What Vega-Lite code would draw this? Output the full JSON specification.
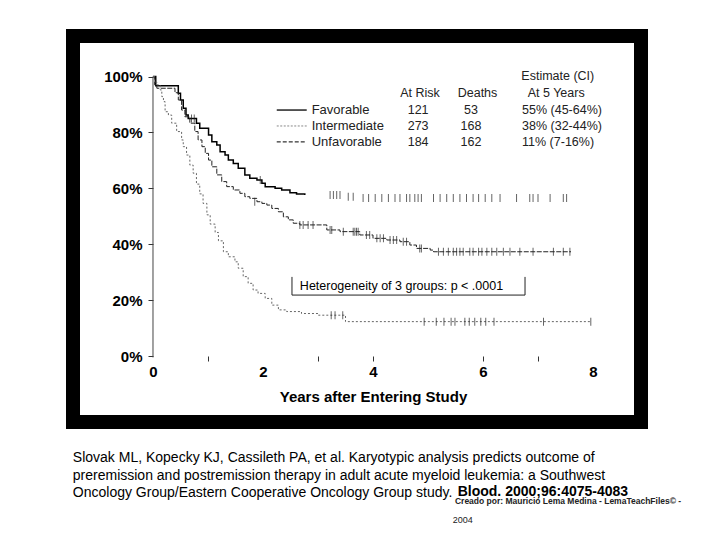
{
  "$schema": "https://vega.github.io/schema/vega-lite/v6.json",
  "width": 568,
  "height": 386,
  "autosize": "none",
  "padding": {"left": 73, "top": 36, "right": 79, "bottom": 118},
  "background": "white",
  "config": {"view": {"stroke": "black", "strokeWidth": 14}, "font": "Liberation Sans"},
  "datasets": {
    "km": [
      {"group": "Favorable", "t": 0, "s": 100}, {"group": "Favorable", "t": 0.05, "s": 96.7}, {"group": "Favorable", "t": 0.42, "s": 96.7},
      {"group": "Favorable", "t": 0.46, "s": 94.0}, {"group": "Favorable", "t": 0.5, "s": 91.6}, {"group": "Favorable", "t": 0.55, "s": 88.6},
      {"group": "Favorable", "t": 0.6, "s": 86.2}, {"group": "Favorable", "t": 0.64, "s": 85.0}, {"group": "Favorable", "t": 0.79, "s": 83.3},
      {"group": "Favorable", "t": 0.85, "s": 81.5}, {"group": "Favorable", "t": 1.01, "s": 79.1}, {"group": "Favorable", "t": 1.07, "s": 76.7},
      {"group": "Favorable", "t": 1.16, "s": 75.5}, {"group": "Favorable", "t": 1.22, "s": 73.1}, {"group": "Favorable", "t": 1.31, "s": 71.9},
      {"group": "Favorable", "t": 1.37, "s": 70.1}, {"group": "Favorable", "t": 1.46, "s": 68.9}, {"group": "Favorable", "t": 1.55, "s": 67.2},
      {"group": "Favorable", "t": 1.67, "s": 64.8}, {"group": "Favorable", "t": 1.76, "s": 63.6}, {"group": "Favorable", "t": 1.89, "s": 63.0},
      {"group": "Favorable", "t": 1.98, "s": 61.8}, {"group": "Favorable", "t": 2.04, "s": 60.6}, {"group": "Favorable", "t": 2.22, "s": 60.0},
      {"group": "Favorable", "t": 2.34, "s": 59.4}, {"group": "Favorable", "t": 2.49, "s": 58.4}, {"group": "Favorable", "t": 2.61, "s": 58.0},
      {"group": "Favorable", "t": 2.76, "s": 57.6},
      {"group": "Intermediate", "t": 0, "s": 100}, {"group": "Intermediate", "t": 0.03, "s": 97.0}, {"group": "Intermediate", "t": 0.07, "s": 95.8},
      {"group": "Intermediate", "t": 0.4, "s": 94.2}, {"group": "Intermediate", "t": 0.46, "s": 91.6}, {"group": "Intermediate", "t": 0.52, "s": 88.0},
      {"group": "Intermediate", "t": 0.58, "s": 85.6}, {"group": "Intermediate", "t": 0.67, "s": 83.3}, {"group": "Intermediate", "t": 0.76, "s": 80.3},
      {"group": "Intermediate", "t": 0.82, "s": 77.3}, {"group": "Intermediate", "t": 0.89, "s": 74.9}, {"group": "Intermediate", "t": 0.95, "s": 72.5},
      {"group": "Intermediate", "t": 1.01, "s": 70.1}, {"group": "Intermediate", "t": 1.07, "s": 67.7}, {"group": "Intermediate", "t": 1.16, "s": 64.8},
      {"group": "Intermediate", "t": 1.25, "s": 62.4}, {"group": "Intermediate", "t": 1.34, "s": 60.6}, {"group": "Intermediate", "t": 1.46, "s": 59.4},
      {"group": "Intermediate", "t": 1.58, "s": 58.2}, {"group": "Intermediate", "t": 1.67, "s": 57.0}, {"group": "Intermediate", "t": 1.76, "s": 56.4},
      {"group": "Intermediate", "t": 1.89, "s": 55.2}, {"group": "Intermediate", "t": 1.98, "s": 54.6}, {"group": "Intermediate", "t": 2.07, "s": 54.0},
      {"group": "Intermediate", "t": 2.16, "s": 52.8}, {"group": "Intermediate", "t": 2.28, "s": 51.6}, {"group": "Intermediate", "t": 2.37, "s": 49.8},
      {"group": "Intermediate", "t": 2.46, "s": 48.7}, {"group": "Intermediate", "t": 2.55, "s": 47.5}, {"group": "Intermediate", "t": 2.67, "s": 46.9},
      {"group": "Intermediate", "t": 3.16, "s": 45.1}, {"group": "Intermediate", "t": 3.4, "s": 44.5}, {"group": "Intermediate", "t": 3.76, "s": 43.3},
      {"group": "Intermediate", "t": 4.0, "s": 42.1}, {"group": "Intermediate", "t": 4.25, "s": 41.5}, {"group": "Intermediate", "t": 4.49, "s": 40.9},
      {"group": "Intermediate", "t": 4.67, "s": 39.7}, {"group": "Intermediate", "t": 4.79, "s": 38.5}, {"group": "Intermediate", "t": 5.04, "s": 37.9},
      {"group": "Intermediate", "t": 5.1, "s": 37.3}, {"group": "Intermediate", "t": 7.6, "s": 37.3},
      {"group": "Unfavorable", "t": 0, "s": 100}, {"group": "Unfavorable", "t": 0.03, "s": 98.0}, {"group": "Unfavorable", "t": 0.07, "s": 97.0},
      {"group": "Unfavorable", "t": 0.13, "s": 95.2}, {"group": "Unfavorable", "t": 0.16, "s": 92.8}, {"group": "Unfavorable", "t": 0.19, "s": 91.0},
      {"group": "Unfavorable", "t": 0.22, "s": 87.4}, {"group": "Unfavorable", "t": 0.28, "s": 86.2}, {"group": "Unfavorable", "t": 0.34, "s": 83.3},
      {"group": "Unfavorable", "t": 0.43, "s": 80.3}, {"group": "Unfavorable", "t": 0.52, "s": 77.3}, {"group": "Unfavorable", "t": 0.55, "s": 74.9},
      {"group": "Unfavorable", "t": 0.61, "s": 71.9}, {"group": "Unfavorable", "t": 0.67, "s": 68.3}, {"group": "Unfavorable", "t": 0.73, "s": 65.4},
      {"group": "Unfavorable", "t": 0.79, "s": 61.5}, {"group": "Unfavorable", "t": 0.85, "s": 58.0}, {"group": "Unfavorable", "t": 0.91, "s": 54.6},
      {"group": "Unfavorable", "t": 0.98, "s": 50.5}, {"group": "Unfavorable", "t": 1.04, "s": 47.2}, {"group": "Unfavorable", "t": 1.13, "s": 44.2},
      {"group": "Unfavorable", "t": 1.19, "s": 41.2}, {"group": "Unfavorable", "t": 1.28, "s": 37.3}, {"group": "Unfavorable", "t": 1.37, "s": 35.5},
      {"group": "Unfavorable", "t": 1.49, "s": 33.7}, {"group": "Unfavorable", "t": 1.55, "s": 31.4}, {"group": "Unfavorable", "t": 1.64, "s": 28.4},
      {"group": "Unfavorable", "t": 1.73, "s": 26.0}, {"group": "Unfavorable", "t": 1.82, "s": 23.6}, {"group": "Unfavorable", "t": 1.91, "s": 22.4},
      {"group": "Unfavorable", "t": 2.04, "s": 20.6}, {"group": "Unfavorable", "t": 2.16, "s": 18.2}, {"group": "Unfavorable", "t": 2.28, "s": 16.5},
      {"group": "Unfavorable", "t": 2.43, "s": 15.9}, {"group": "Unfavorable", "t": 2.7, "s": 15.2}, {"group": "Unfavorable", "t": 3.0, "s": 14.6},
      {"group": "Unfavorable", "t": 3.5, "s": 12.3}, {"group": "Unfavorable", "t": 7.96, "s": 12.3}
    ],
    "censored": [
      {"group": "Favorable", "t": 0.7, "s": 85.0}, {"group": "Favorable", "t": 0.75, "s": 85.0}, {"group": "Favorable", "t": 1.95, "s": 63.0},
      {"group": "Favorable", "t": 3.22, "s": 57.6}, {"group": "Favorable", "t": 3.28, "s": 57.6}, {"group": "Favorable", "t": 3.34, "s": 57.6},
      {"group": "Favorable", "t": 3.4, "s": 57.6}, {"group": "Favorable", "t": 3.55, "s": 57.0}, {"group": "Favorable", "t": 3.64, "s": 57.0},
      {"group": "Favorable", "t": 3.82, "s": 56.5}, {"group": "Favorable", "t": 3.92, "s": 56.5}, {"group": "Favorable", "t": 4.04, "s": 56.5},
      {"group": "Favorable", "t": 4.16, "s": 56.5}, {"group": "Favorable", "t": 4.28, "s": 56.5}, {"group": "Favorable", "t": 4.4, "s": 56.5},
      {"group": "Favorable", "t": 4.49, "s": 56.5}, {"group": "Favorable", "t": 4.61, "s": 56.5}, {"group": "Favorable", "t": 4.67, "s": 56.5},
      {"group": "Favorable", "t": 4.76, "s": 56.5}, {"group": "Favorable", "t": 4.82, "s": 56.5}, {"group": "Favorable", "t": 4.88, "s": 56.5},
      {"group": "Favorable", "t": 5.1, "s": 56.5}, {"group": "Favorable", "t": 5.22, "s": 56.5}, {"group": "Favorable", "t": 5.34, "s": 56.5},
      {"group": "Favorable", "t": 5.46, "s": 56.5}, {"group": "Favorable", "t": 5.58, "s": 56.5}, {"group": "Favorable", "t": 5.7, "s": 56.5},
      {"group": "Favorable", "t": 5.82, "s": 56.5}, {"group": "Favorable", "t": 5.92, "s": 56.5}, {"group": "Favorable", "t": 6.04, "s": 56.5},
      {"group": "Favorable", "t": 6.16, "s": 56.5}, {"group": "Favorable", "t": 6.31, "s": 56.5}, {"group": "Favorable", "t": 6.61, "s": 56.5},
      {"group": "Favorable", "t": 6.85, "s": 56.5}, {"group": "Favorable", "t": 6.91, "s": 56.5}, {"group": "Favorable", "t": 7.0, "s": 56.5},
      {"group": "Favorable", "t": 7.22, "s": 56.5}, {"group": "Favorable", "t": 7.46, "s": 56.5}, {"group": "Favorable", "t": 7.52, "s": 56.5},
      {"group": "Intermediate", "t": 1.85, "s": 55.2}, {"group": "Intermediate", "t": 2.67, "s": 46.9}, {"group": "Intermediate", "t": 2.73, "s": 46.9},
      {"group": "Intermediate", "t": 2.82, "s": 46.9}, {"group": "Intermediate", "t": 2.91, "s": 46.9}, {"group": "Intermediate", "t": 3.22, "s": 45.1},
      {"group": "Intermediate", "t": 3.25, "s": 45.1}, {"group": "Intermediate", "t": 3.46, "s": 44.5}, {"group": "Intermediate", "t": 3.64, "s": 44.5},
      {"group": "Intermediate", "t": 3.67, "s": 44.5}, {"group": "Intermediate", "t": 3.7, "s": 44.5}, {"group": "Intermediate", "t": 3.73, "s": 44.5},
      {"group": "Intermediate", "t": 3.88, "s": 43.3}, {"group": "Intermediate", "t": 3.94, "s": 43.3}, {"group": "Intermediate", "t": 4.07, "s": 42.1},
      {"group": "Intermediate", "t": 4.13, "s": 42.1}, {"group": "Intermediate", "t": 4.19, "s": 42.1}, {"group": "Intermediate", "t": 4.31, "s": 41.5},
      {"group": "Intermediate", "t": 4.37, "s": 41.5}, {"group": "Intermediate", "t": 4.43, "s": 41.5}, {"group": "Intermediate", "t": 4.55, "s": 40.9},
      {"group": "Intermediate", "t": 4.61, "s": 40.9}, {"group": "Intermediate", "t": 4.85, "s": 38.5}, {"group": "Intermediate", "t": 4.88, "s": 38.5},
      {"group": "Intermediate", "t": 5.19, "s": 37.3}, {"group": "Intermediate", "t": 5.28, "s": 37.3}, {"group": "Intermediate", "t": 5.37, "s": 37.3},
      {"group": "Intermediate", "t": 5.46, "s": 37.3}, {"group": "Intermediate", "t": 5.52, "s": 37.3}, {"group": "Intermediate", "t": 5.58, "s": 37.3},
      {"group": "Intermediate", "t": 5.64, "s": 37.3}, {"group": "Intermediate", "t": 5.76, "s": 37.3}, {"group": "Intermediate", "t": 5.82, "s": 37.3},
      {"group": "Intermediate", "t": 5.92, "s": 37.3}, {"group": "Intermediate", "t": 5.98, "s": 37.3}, {"group": "Intermediate", "t": 6.07, "s": 37.3},
      {"group": "Intermediate", "t": 6.16, "s": 37.3}, {"group": "Intermediate", "t": 6.25, "s": 37.3}, {"group": "Intermediate", "t": 6.37, "s": 37.3},
      {"group": "Intermediate", "t": 6.49, "s": 37.3}, {"group": "Intermediate", "t": 6.67, "s": 37.3}, {"group": "Intermediate", "t": 6.91, "s": 37.3},
      {"group": "Intermediate", "t": 7.28, "s": 37.3}, {"group": "Intermediate", "t": 7.46, "s": 37.3}, {"group": "Intermediate", "t": 7.58, "s": 37.3},
      {"group": "Unfavorable", "t": 3.24, "s": 14.6}, {"group": "Unfavorable", "t": 3.31, "s": 14.6}, {"group": "Unfavorable", "t": 3.45, "s": 14.6},
      {"group": "Unfavorable", "t": 4.93, "s": 12.3}, {"group": "Unfavorable", "t": 5.15, "s": 12.3}, {"group": "Unfavorable", "t": 5.29, "s": 12.3},
      {"group": "Unfavorable", "t": 5.42, "s": 12.3}, {"group": "Unfavorable", "t": 5.49, "s": 12.3}, {"group": "Unfavorable", "t": 5.67, "s": 12.3},
      {"group": "Unfavorable", "t": 5.75, "s": 12.3}, {"group": "Unfavorable", "t": 5.85, "s": 12.3}, {"group": "Unfavorable", "t": 5.96, "s": 12.3},
      {"group": "Unfavorable", "t": 6.05, "s": 12.3}, {"group": "Unfavorable", "t": 6.2, "s": 12.3}, {"group": "Unfavorable", "t": 7.1, "s": 12.3},
      {"group": "Unfavorable", "t": 7.96, "s": 12.3}
    ],
    "table": [
      {"group": "Favorable", "atRisk": "121", "deaths": "53", "estimate": "55% (45-64%)", "s": 88.0},
      {"group": "Intermediate", "atRisk": "273", "deaths": "168", "estimate": "38% (32-44%)", "s": 82.3},
      {"group": "Unfavorable", "atRisk": "184", "deaths": "162", "estimate": "11% (7-16%)", "s": 76.6}
    ],
    "headers": [
      {"text": "Estimate (CI)", "t": 7.36, "s": 100.2},
      {"text": "At Risk", "t": 4.855, "s": 94.1},
      {"text": "Deaths", "t": 5.9, "s": 94.1},
      {"text": "At 5 Years", "t": 7.33, "s": 94.1}
    ],
    "citation": [
      {"text": "Slovak ML, Kopecky KJ, Cassileth PA, et al. Karyotypic analysis predicts outcome of", "t": -1.458, "s": -36.6},
      {"text": "preremission and postremission therapy in adult acute myeloid leukemia: a Southwest", "t": -1.458, "s": -42.8},
      {"text": "Oncology Group/Eastern Cooperative Oncology Group study.", "t": -1.458, "s": -49.0}
    ]
  },
  "layer": [
    {
      "data": {"name": "km"},
      "transform": [{"filter": "datum.group == 'Favorable'"}],
      "mark": {"type": "line", "interpolate": "step-after", "color": "black", "strokeWidth": 1.5},
      "encoding": {
        "x": {"field": "t", "type": "quantitative", "scale": {"domain": [-1.4545, 8.8727], "nice": false, "zero": false},
          "axis": {"orient": "bottom", "offset": -66, "values": [0, 1, 2, 3, 4, 5, 6, 7, 8],
            "labelExpr": "datum.value % 2 == 0 ? format(datum.value, 'd') : ''",
            "tickOpacity": {"condition": {"test": "indexof([1, 3, 4, 6, 7], datum.value) >= 0", "value": 1}, "value": 0},
            "domain": false, "grid": false, "tickSize": 5, "tickColor": "#333", "labelFlush": false, "labelOverlap": false, "labelBound": false,
            "labelFont": "Liberation Sans", "labelFontSize": 15, "labelFontWeight": "bold", "labelColor": "black", "labelPadding": 3,
            "title": "Years after Entering Study", "titleFont": "Liberation Sans", "titleFontSize": 15, "titleFontWeight": "bold", "titleColor": "black",
            "titleX": 300, "titleY": 40, "titleBaseline": "middle", "titleAlign": "center", "titleAnchor": null}},
        "y": {"field": "s", "type": "quantitative", "scale": {"domain": [-23.61, 114.49], "nice": false, "zero": false},
          "axis": {"orient": "left", "offset": -80, "values": [0, 10, 20, 30, 40, 50, 60, 70, 80, 90, 100],
            "labelExpr": "datum.value % 20 == 0 ? datum.value + '%' : ''",
            "domain": false, "grid": false, "tickSize": 5, "tickColor": "#333", "labelOverlap": false, "labelBound": false,
            "labelFont": "Liberation Sans", "labelFontSize": 15, "labelFontWeight": "bold", "labelColor": "black", "labelPadding": 6, "title": null}}
      }
    },
    {
      "data": {"name": "km"},
      "transform": [{"filter": "datum.group == 'Intermediate'"}],
      "mark": {"type": "line", "interpolate": "step-after", "color": "#222", "strokeWidth": 1, "strokeDash": [5, 1.5]},
      "encoding": {
        "x": {"field": "t", "type": "quantitative", "scale": {"domain": [-1.4545, 8.8727], "nice": false, "zero": false}},
        "y": {"field": "s", "type": "quantitative", "scale": {"domain": [-23.61, 114.49], "nice": false, "zero": false}}
      }
    },
    {
      "data": {"name": "km"},
      "transform": [{"filter": "datum.group == 'Unfavorable'"}],
      "mark": {"type": "line", "interpolate": "step-after", "color": "#666", "strokeWidth": 1, "strokeDash": [2, 2]},
      "encoding": {
        "x": {"field": "t", "type": "quantitative", "scale": {"domain": [-1.4545, 8.8727], "nice": false, "zero": false}},
        "y": {"field": "s", "type": "quantitative", "scale": {"domain": [-23.61, 114.49], "nice": false, "zero": false}}
      }
    },
    {
      "data": {"name": "censored"},
      "mark": {"type": "tick", "orient": "vertical", "size": 8, "thickness": 1, "color": "#222"},
      "encoding": {
        "x": {"field": "t", "type": "quantitative", "scale": {"domain": [-1.4545, 8.8727], "nice": false, "zero": false}},
        "y": {"field": "s", "type": "quantitative", "scale": {"domain": [-23.61, 114.49], "nice": false, "zero": false}}
      }
    },
    {
      "data": {"values": [{}]},
      "mark": {"type": "rule", "color": "#444", "strokeWidth": 1},
      "encoding": {
        "x": {"datum": 0, "type": "quantitative", "scale": {"domain": [-1.4545, 8.8727], "nice": false, "zero": false}},
        "y": {"datum": -0.5, "type": "quantitative", "scale": {"domain": [-23.61, 114.49], "nice": false, "zero": false}},
        "y2": {"datum": 100}
      }
    },
    {
      "data": {"name": "table"},
      "transform": [{"filter": "datum.group == 'Favorable'"}],
      "mark": {"type": "rule", "color": "black", "strokeWidth": 1.3},
      "encoding": {
        "x": {"datum": 2.25, "type": "quantitative", "scale": {"domain": [-1.4545, 8.8727], "nice": false, "zero": false}},
        "x2": {"datum": 2.795},
        "y": {"field": "s", "type": "quantitative", "scale": {"domain": [-23.61, 114.49], "nice": false, "zero": false}}
      }
    },
    {
      "data": {"name": "table"},
      "transform": [{"filter": "datum.group == 'Intermediate'"}],
      "mark": {"type": "rule", "color": "#888", "strokeWidth": 1, "strokeDash": [2, 1.5]},
      "encoding": {
        "x": {"datum": 2.25, "type": "quantitative", "scale": {"domain": [-1.4545, 8.8727], "nice": false, "zero": false}},
        "x2": {"datum": 2.795},
        "y": {"field": "s", "type": "quantitative", "scale": {"domain": [-23.61, 114.49], "nice": false, "zero": false}}
      }
    },
    {
      "data": {"name": "table"},
      "transform": [{"filter": "datum.group == 'Unfavorable'"}],
      "mark": {"type": "rule", "color": "black", "strokeWidth": 1, "strokeDash": [4, 2]},
      "encoding": {
        "x": {"datum": 2.25, "type": "quantitative", "scale": {"domain": [-1.4545, 8.8727], "nice": false, "zero": false}},
        "x2": {"datum": 2.795},
        "y": {"field": "s", "type": "quantitative", "scale": {"domain": [-23.61, 114.49], "nice": false, "zero": false}}
      }
    },
    {
      "data": {"name": "table"},
      "mark": {"type": "text", "align": "left", "baseline": "middle", "fontSize": 13, "color": "#222", "font": "Liberation Sans"},
      "encoding": {
        "x": {"datum": 2.885, "type": "quantitative", "scale": {"domain": [-1.4545, 8.8727], "nice": false, "zero": false}},
        "y": {"field": "s", "type": "quantitative", "scale": {"domain": [-23.61, 114.49], "nice": false, "zero": false}},
        "text": {"field": "group"}
      }
    },
    {
      "data": {"name": "table"},
      "mark": {"type": "text", "align": "center", "baseline": "middle", "fontSize": 12.5, "color": "#222", "font": "Liberation Sans"},
      "encoding": {
        "x": {"datum": 4.82, "type": "quantitative", "scale": {"domain": [-1.4545, 8.8727], "nice": false, "zero": false}},
        "y": {"field": "s", "type": "quantitative", "scale": {"domain": [-23.61, 114.49], "nice": false, "zero": false}},
        "text": {"field": "atRisk"}
      }
    },
    {
      "data": {"name": "table"},
      "mark": {"type": "text", "align": "center", "baseline": "middle", "fontSize": 12.5, "color": "#222", "font": "Liberation Sans"},
      "encoding": {
        "x": {"datum": 5.78, "type": "quantitative", "scale": {"domain": [-1.4545, 8.8727], "nice": false, "zero": false}},
        "y": {"field": "s", "type": "quantitative", "scale": {"domain": [-23.61, 114.49], "nice": false, "zero": false}},
        "text": {"field": "deaths"}
      }
    },
    {
      "data": {"name": "table"},
      "mark": {"type": "text", "align": "left", "baseline": "middle", "fontSize": 12.5, "color": "#222", "font": "Liberation Sans"},
      "encoding": {
        "x": {"datum": 6.71, "type": "quantitative", "scale": {"domain": [-1.4545, 8.8727], "nice": false, "zero": false}},
        "y": {"field": "s", "type": "quantitative", "scale": {"domain": [-23.61, 114.49], "nice": false, "zero": false}},
        "text": {"field": "estimate"}
      }
    },
    {
      "data": {"name": "headers"},
      "mark": {"type": "text", "align": "center", "baseline": "middle", "fontSize": 12.5, "color": "#222", "font": "Liberation Sans"},
      "encoding": {
        "x": {"field": "t", "type": "quantitative", "scale": {"domain": [-1.4545, 8.8727], "nice": false, "zero": false}},
        "y": {"field": "s", "type": "quantitative", "scale": {"domain": [-23.61, 114.49], "nice": false, "zero": false}},
        "text": {"field": "text"}
      }
    },
    {
      "data": {"values": [{"label": "Heterogeneity of 3 groups: p < .0001"}]},
      "mark": {"type": "text", "align": "left", "baseline": "middle", "fontSize": 12.5, "color": "black", "font": "Liberation Sans"},
      "encoding": {
        "x": {"datum": 2.67, "type": "quantitative", "scale": {"domain": [-1.4545, 8.8727], "nice": false, "zero": false}},
        "y": {"datum": 25.0, "type": "quantitative", "scale": {"domain": [-23.61, 114.49], "nice": false, "zero": false}},
        "text": {"field": "label"}
      }
    },
    {
      "data": {"values": [{"edge": "left", "x": 2.527, "x2": 2.527, "y": 21.8, "y2": 28.3}, {"edge": "right", "x": 6.764, "x2": 6.764, "y": 21.8, "y2": 28.3}, {"edge": "bottom", "x": 2.527, "x2": 6.764, "y": 21.8, "y2": 21.8}]},
      "mark": {"type": "rule", "color": "#222", "strokeWidth": 1},
      "encoding": {
        "x": {"field": "x", "type": "quantitative", "scale": {"domain": [-1.4545, 8.8727], "nice": false, "zero": false}},
        "x2": {"field": "x2"},
        "y": {"field": "y", "type": "quantitative", "scale": {"domain": [-23.61, 114.49], "nice": false, "zero": false}},
        "y2": {"field": "y2"}
      }
    },
    {
      "data": {"name": "citation"},
      "mark": {"type": "text", "align": "left", "baseline": "middle", "fontSize": 14, "color": "black", "font": "Liberation Sans"},
      "encoding": {
        "x": {"field": "t", "type": "quantitative", "scale": {"domain": [-1.4545, 8.8727], "nice": false, "zero": false}},
        "y": {"field": "s", "type": "quantitative", "scale": {"domain": [-23.61, 114.49], "nice": false, "zero": false}},
        "text": {"field": "text"}
      }
    },
    {
      "data": {"values": [{"label": "Blood. 2000;96:4075-4083"}]},
      "mark": {"type": "text", "align": "left", "baseline": "middle", "fontSize": 14, "fontWeight": "bold", "color": "black", "font": "Liberation Sans"},
      "encoding": {
        "x": {"datum": 5.54, "type": "quantitative", "scale": {"domain": [-1.4545, 8.8727], "nice": false, "zero": false}},
        "y": {"datum": -48.5, "type": "quantitative", "scale": {"domain": [-23.61, 114.49], "nice": false, "zero": false}},
        "text": {"field": "label"}
      }
    },
    {
      "data": {"values": [{"label": "Creado por: Mauricio Lema Medina - LemaTeachFiles© -", "s": -51.8}]},
      "mark": {"type": "text", "align": "left", "baseline": "middle", "fontSize": 8.5, "fontWeight": "bold", "color": "#222", "font": "Liberation Sans"},
      "encoding": {
        "x": {"datum": 5.49, "type": "quantitative", "scale": {"domain": [-1.4545, 8.8727], "nice": false, "zero": false}},
        "y": {"field": "s", "type": "quantitative", "scale": {"domain": [-23.61, 114.49], "nice": false, "zero": false}},
        "text": {"field": "label"}
      }
    },
    {
      "data": {"values": [{"label": "2004", "s": -58.7}]},
      "mark": {"type": "text", "align": "left", "baseline": "middle", "fontSize": 9, "color": "#222", "font": "Liberation Sans"},
      "encoding": {
        "x": {"datum": 5.45, "type": "quantitative", "scale": {"domain": [-1.4545, 8.8727], "nice": false, "zero": false}},
        "y": {"field": "s", "type": "quantitative", "scale": {"domain": [-23.61, 114.49], "nice": false, "zero": false}},
        "text": {"field": "label"}
      }
    }
  ]
}
